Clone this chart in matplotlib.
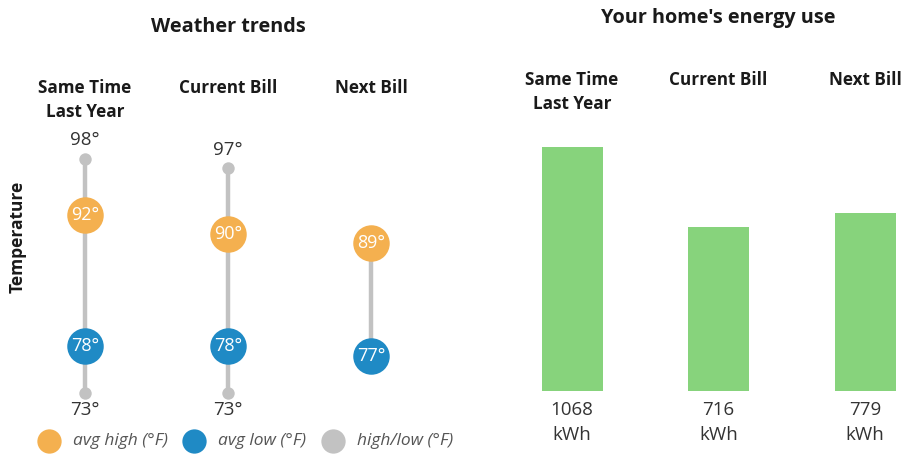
import matplotlib
matplotlib.use("Agg")
import matplotlib.pyplot as plt

# Data
periods = ["Same Time\nLast Year", "Current Bill", "Next Bill"]
temp_high = [98, 97, None]
temp_avg_high = [92, 90, 89]
temp_avg_low = [78, 78, 77]
temp_low = [73, 73, None]
energy_kwh = [1068, 716, 779]

ORANGE = "#F4B04F"
BLUE = "#1F8AC5"
GRAY = "#C2C2C2"
GREEN = "#87D37C"
DARK = "#1a1a1a"
TXT = "#333333"

W, H = 903, 454
DPI = 100
fig = plt.figure(figsize=(W / DPI, H / DPI), dpi=DPI)
plt.rcParams["font.family"] = ["Open Sans", "DejaVu Sans"]


def fx(px):
    return px / W


def fy(py):
    return 1 - py / H


# ---------- Weather trends ----------
axL = fig.add_axes([0, 0, fx(460), 1])
axL.set_xlim(-85 / 143, (460 - 85) / 143)
axL.set_ylim(98 - (454 - 159) / 9.36, 98 + 159 / 9.36)
axL.axis("off")

for i in range(len(periods)):
    top = temp_high[i] if temp_high[i] is not None else temp_avg_high[i]
    bot = temp_low[i] if temp_low[i] is not None else temp_avg_low[i]
    axL.plot([i, i], [bot, top], color=GRAY, lw=3.2, solid_capstyle="butt", zorder=1)
    if temp_high[i] is not None:
        axL.scatter([i], [temp_high[i]], s=80, color=GRAY, zorder=2, linewidths=0)
        axL.annotate(f"{temp_high[i]}°", (i, temp_high[i]), xytext=(0, 13.5),
                     textcoords="offset points", ha="center", va="center",
                     fontsize=13.5, color=TXT)
    if temp_low[i] is not None:
        axL.scatter([i], [temp_low[i]], s=80, color=GRAY, zorder=2, linewidths=0)
        axL.annotate(f"{temp_low[i]}°", (i, temp_low[i]), xytext=(0, -12.5),
                     textcoords="offset points", ha="center", va="center",
                     fontsize=13.5, color=TXT)
    axL.scatter([i], [temp_avg_high[i]], s=690, color=ORANGE, zorder=3, linewidths=0)
    axL.text(i, temp_avg_high[i], f"{temp_avg_high[i]}°", ha="center", va="center",
             fontsize=13, color="white", zorder=4)
    axL.scatter([i], [temp_avg_low[i]], s=690, color=BLUE, zorder=3, linewidths=0)
    axL.text(i, temp_avg_low[i], f"{temp_avg_low[i]}°", ha="center", va="center",
             fontsize=13, color="white", zorder=4)

fig.text(fx(228), fy(27), "Weather trends", ha="center", va="center",
         fontsize=14.3, fontweight="bold", color=DARK)
for i, lab in enumerate(periods):
    fig.text(fx(85 + 143 * i), fy(79), lab, ha="center", va="top",
             fontsize=12.3, fontweight="bold", color=DARK, linespacing=1.42)
fig.text(fx(18), fy(237), "Temperature", rotation=90, ha="center", va="center",
         fontsize=12.5, fontweight="bold", color=DARK)

# legend
leg_items = [(49, ORANGE, "avg high (°F)"), (194, BLUE, "avg low (°F)"),
             (333, GRAY, "high/low (°F)")]
for px, col, lab in leg_items:
    fig.add_artist(plt.Line2D([fx(px)], [fy(441)], marker="o", markersize=17.5,
                              color=col, markeredgewidth=0, linestyle="none"))
    fig.text(fx(px + 24), fy(441), lab, ha="left", va="center", fontsize=12.5,
             style="italic", color="#555555")

# ---------- Energy use ----------
axR = fig.add_axes([fx(480), 0, fx(423), 1])
sp = 146.5
axR.set_xlim((480 - 572) / sp, (903 - 572) / sp)
kwh_per_px = 1068 / 244
axR.set_ylim(-(454 - 391) * kwh_per_px, 391 * kwh_per_px)
axR.axis("off")
axR.bar(range(len(energy_kwh)), energy_kwh, width=61 / sp, color=GREEN, zorder=2)
for i, v in enumerate(energy_kwh):
    axR.annotate(f"{v}\nkWh", (i, 0), xytext=(0, -7), textcoords="offset points",
                 ha="center", va="top", fontsize=13.5, color=TXT, linespacing=1.55)
    fig.text(fx(572 + sp * i), fy(71), periods[i], ha="center", va="top",
             fontsize=12.3, fontweight="bold", color=DARK, linespacing=1.42)
fig.text(fx(718), fy(18), "Your home's energy use", ha="center", va="center",
         fontsize=14.3, fontweight="bold", color=DARK)

fig.savefig("out.png", dpi=DPI)
